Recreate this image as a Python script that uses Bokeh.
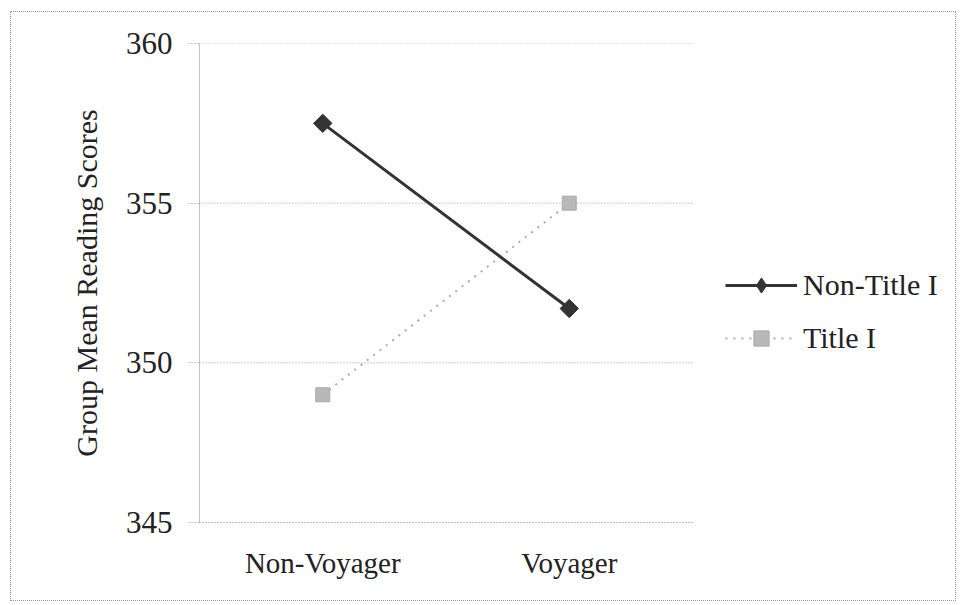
from bokeh.plotting import figure
from bokeh.models import Range1d, FixedTicker, Legend, LegendItem
from bokeh.embed import file_html
from bokeh.resources import INLINE
import math

categories = ["Non-Voyager", "Voyager"]
non_title_i = [357.5, 351.7]
title_i = [349.0, 355.0]
y_ticks = [345, 350, 355, 360]
series_names = ["Non-Title I", "Title I"]

FONT = "Liberation Serif"

# category positions (band centres) on a numeric axis
xs = [i + 0.5 for i in range(len(categories))]
n_cat = len(categories)

W, H = 946, 590
LEFT, TOP, BOTTOM = 188, 31, 80
PLOT_W = 493                      # width of the data area in px
frame_w = W - LEFT
x_end = n_cat * frame_w / PLOT_W  # extra room on the right for the legend

p = figure(width=W, height=H, output_backend="svg", toolbar_location=None,
           x_range=Range1d(0, x_end), y_range=Range1d(y_ticks[0], y_ticks[-1]),
           min_border_left=LEFT, min_border_right=0, min_border_top=TOP,
           min_border_bottom=BOTTOM)

p.styles = {"border": "1px dotted #9a9a9a", "margin-left": "10px", "margin-top": "11px"}

p.outline_line_color = None
p.xgrid.visible = False
p.ygrid.visible = False

# horizontal gridlines limited to the data area
p.segment(x0=[0] * len(y_ticks), x1=[n_cat] * len(y_ticks), y0=y_ticks, y1=y_ticks,
          line_color="#9a9a9a", line_dash="1 2", line_width=1)

p.yaxis.ticker = FixedTicker(ticks=y_ticks)
p.yaxis.axis_label = "Group Mean Reading Scores"
p.yaxis.axis_label_text_font = FONT
p.yaxis.axis_label_text_font_size = "30px"
p.yaxis.axis_label_text_font_style = "normal"
p.yaxis.axis_label_text_color = "#222222"
p.yaxis.axis_label_standoff = 20
p.yaxis.major_label_text_font = FONT
p.yaxis.major_label_text_font_size = "31px"
p.yaxis.major_label_text_color = "#222222"
p.yaxis.major_label_standoff = 16
p.yaxis.major_tick_in = 0
p.yaxis.major_tick_out = 11
p.yaxis.major_tick_line_color = "#9a9a9a"
p.yaxis.major_tick_line_dash = "1 2"
p.yaxis.minor_tick_line_color = None
p.yaxis.axis_line_color = "#8a8a8a"
p.yaxis.axis_line_dash = "1 1"

p.xaxis.ticker = FixedTicker(ticks=xs)
p.xaxis.major_label_overrides = {x: c for x, c in zip(xs, categories)}
p.xaxis.bounds = (0, n_cat)
p.xaxis.minor_tick_line_color = None
p.xaxis.major_label_text_font = FONT
p.xaxis.major_label_text_font_size = "29px"
p.xaxis.major_label_text_color = "#222222"
p.xaxis.major_label_standoff = 18
p.xaxis.major_tick_line_color = None
p.xaxis.axis_line_color = "#9a9a9a"
p.xaxis.axis_line_dash = "1 2"

# Title I (drawn first, underneath)
r_t_line = p.line(xs, title_i, line_color="#ababab", line_width=2, line_dash="2 6")
r_t_mark = p.scatter(xs, title_i, marker="square", size=14,
                     fill_color="#b8b8b8", line_color="#a8a8a8")
# Non-Title I
r_n_line = p.line(xs, non_title_i, line_color="#333333", line_width=3)
r_n_mark = p.scatter(xs, non_title_i, marker="square", angle=math.pi / 4, size=13,
                     fill_color="#333333", line_color="#333333")
# legend swatch for the diamond marker (a single NaN row, nothing drawn on the chart)
r_n_key = p.scatter(x=[float("nan")], y=[float("nan")], marker="diamond", size=14,
                    fill_color="#333333", line_color="#333333")

legend = Legend(items=[
    LegendItem(label=series_names[0], renderers=[r_n_line, r_n_key]),
    LegendItem(label=series_names[1], renderers=[r_t_line, r_t_mark]),
], location=(526, 165))
legend.label_text_font = FONT
legend.label_text_font_size = "30px"
legend.label_text_color = "#222222"
legend.glyph_width = 72
legend.glyph_height = 38
legend.label_height = 36
legend.label_standoff = 6
legend.spacing = 15
legend.padding = 0
legend.margin = 0
legend.border_line_color = None
legend.background_fill_alpha = 0
p.add_layout(legend, "center")

open("out.html", "w").write(file_html(p, INLINE))
